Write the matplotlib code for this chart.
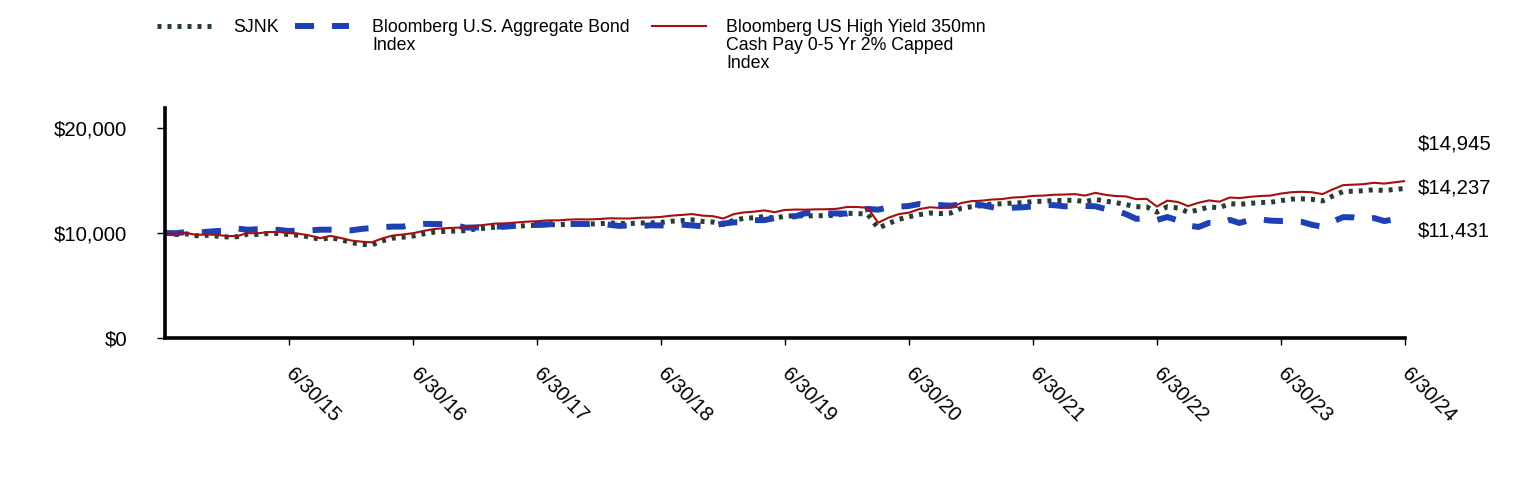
import matplotlib
matplotlib.use("Agg")
import matplotlib.pyplot as plt
import matplotlib.transforms as mtransforms
from matplotlib.lines import Line2D
import pandas as pd

plt.rcParams['font.family'] = ['Liberation Sans', 'DejaVu Sans']

dates = pd.date_range('2014-06-30', '2024-06-30', freq='ME')

sjnk = [
    10000, 9850, 9920, 9740, 9780, 9700, 9620,
    9650, 9880, 9860, 9950, 9960, 9850, 9780, 9620, 9380, 9560, 9360, 9080,
    8920, 8860, 9250, 9500, 9600, 9710, 9920, 10080, 10150, 10180, 10220, 10380,
    10460, 10560, 10570, 10640, 10700, 10730, 10800, 10780, 10850, 10870, 10850, 10880,
    10950, 10910, 10900, 10950, 10960, 11000, 11120, 11180, 11250, 11100, 11040, 10800,
    11220, 11380, 11450, 11560, 11400, 11600, 11640, 11620, 11650, 11650, 11690, 11870,
    11850, 11800, 10450, 10900, 11300, 11550, 11750, 11900, 11850, 11900, 12350, 12500,
    12600, 12750, 12780, 12850, 12880, 13000, 13020, 13080, 13100, 13120, 12980, 13200,
    13020, 12900, 12700, 12500, 12480, 11980, 12500, 12380, 11980, 12200, 12480, 12400,
    12800, 12720, 12820, 12900, 12920, 13080, 13220, 13250, 13200, 13050, 13520, 13950,
    13980, 14020, 14120, 14040, 14150, 14237,
]

agg = [
    10000, 9975, 10085, 10017, 10115, 10186, 10196,
    10410, 10311, 10359, 10322, 10297, 10186, 10257, 10242, 10311, 10313, 10286, 10252,
    10393, 10467, 10563, 10604, 10607, 10797, 10866, 10853, 10847, 10763, 10508, 10523,
    10544, 10615, 10609, 10691, 10774, 10763, 10809, 10906, 10854, 10861, 10847, 10897,
    10771, 10669, 10737, 10657, 10733, 10720, 10723, 10792, 10722, 10637, 10701, 10898,
    11013, 11007, 11219, 11222, 11421, 11564, 11590, 11891, 11828, 11863, 11857, 11849,
    12077, 12294, 12222, 12440, 12498, 12576, 12764, 12661, 12654, 12597, 12721, 12738,
    12646, 12464, 12308, 12405, 12446, 12533, 12673, 12649, 12540, 12536, 12573, 12541,
    12271, 12134, 11797, 11349, 11422, 11243, 11518, 11193, 10709, 10570, 10958, 10908,
    11244, 10953, 11231, 11299, 11176, 11136, 11128, 11057, 10776, 10605, 11086, 11510,
    11479, 11316, 11420, 11132, 11321, 11431,
]

hy = [
    10000, 9900, 10000, 9820, 9860, 9820, 9700,
    9720, 9990, 9970, 10090, 10110, 9990, 9920, 9750, 9500, 9720, 9520, 9280,
    9170, 9110, 9480, 9750, 9860, 9980, 10200, 10380, 10450, 10500, 10530, 10680,
    10790, 10900, 10920, 11000, 11080, 11120, 11200, 11200, 11270, 11300, 11290, 11330,
    11400, 11380, 11380, 11450, 11470, 11530, 11650, 11720, 11800, 11650, 11600, 11380,
    11800, 11950, 12030, 12150, 11980, 12190, 12230, 12220, 12250, 12260, 12300, 12480,
    12470, 12400, 10980, 11450, 11800, 11940, 12280, 12450, 12380, 12420, 12850, 13030,
    13080, 13180, 13230, 13370, 13420, 13530, 13560, 13640, 13660, 13700, 13560, 13820,
    13620, 13520, 13480, 13220, 13250, 12520, 13080, 12950, 12560, 12880, 13100, 12980,
    13380, 13320, 13440, 13520, 13560, 13750, 13880, 13920, 13880, 13700, 14150, 14560,
    14600, 14650, 14780, 14700, 14830, 14945,
]

labels = [
    "SJNK",
    "Bloomberg U.S. Aggregate Bond\nIndex",
    "Bloomberg US High Yield 350mn\nCash Pay 0-5 Yr 2% Capped\nIndex",
]
end_labels = ["$14,237", "$11,431", "$14,945"]
tick_years = list(range(2015, 2025))

c_sjnk = '#263E33'
c_agg = '#1E40B5'
c_hy = '#A50F0F'

W, H = 1524, 480
fig = plt.figure(figsize=(W / 100, H / 100), dpi=100)
ax = fig.add_axes([165 / W, 1 - 338 / H, (1405 - 165) / W, (338 - 108) / H])

styles = [
    dict(color=c_sjnk, lw=3.6, linestyle=(0, (0.8, 1.2))),
    dict(color=c_agg, lw=4.3, linestyle=(0, (3.2, 3.0))),
    dict(color=c_hy, lw=1.5, linestyle='-'),
]
for series, st in zip([sjnk, agg, hy], styles):
    ax.plot(dates, series, dash_capstyle='butt', **st)

ax.set_xlim(dates[0], dates[-1])
ax.set_ylim(0, 21900)
ax.set_yticks([0, 10000, 20000])
ax.yaxis.set_major_formatter(matplotlib.ticker.FuncFormatter(lambda v, p: f"${v:,.0f}"))
ticks = [pd.Timestamp(f"{y}-06-30") for y in tick_years]
ax.set_xticks(ticks)
ax.set_xticklabels([t.strftime('%-m/%d/%y') for t in ticks])

for s in ['top', 'right']:
    ax.spines[s].set_visible(False)
for s in ['left', 'bottom']:
    ax.spines[s].set_linewidth(2.6)
ax.tick_params(axis='y', length=6, width=1, labelsize=14.7, pad=21)
ax.tick_params(axis='x', length=5, width=1, labelsize=14.7, pad=12)
offset = mtransforms.ScaledTranslation(7 / 100, -3 / 100, fig.dpi_scale_trans)
for lab in ax.get_xticklabels():
    lab.set_rotation(-45)
    lab.set_ha('left')
    lab.set_va('top')
    lab.set_rotation_mode('anchor')
    lab.set_transform(lab.get_transform() + offset)

# end value labels
ends = [(sjnk[-1], 0), (agg[-1], -9.4), (hy[-1], 26.6)]
for (v, dy), txt in zip(ends, end_labels):
    ax.annotate(txt, xy=(dates[-1], v), xytext=(9.4, dy), textcoords='offset points',
                ha='left', va='center', fontsize=14.7, annotation_clip=False)

# legend (drawn in figure pixel coordinates, handles aligned with first line)
handle_x = [157, 295, 652]
text_x = [233, 372, 726]
hy_pix = 26
for hx, tx, lab, st in zip(handle_x, text_x, labels, styles):
    ln = Line2D([hx / W, (hx + 54) / W], [1 - hy_pix / H, 1 - hy_pix / H],
                transform=fig.transFigure, dash_capstyle='butt', **st)
    fig.add_artist(ln)
    fig.text(tx / W, 1 - 19 / H, lab, ha='left', va='top', fontsize=12.8,
             linespacing=1.08)

fig.savefig('out.png', dpi=100)
